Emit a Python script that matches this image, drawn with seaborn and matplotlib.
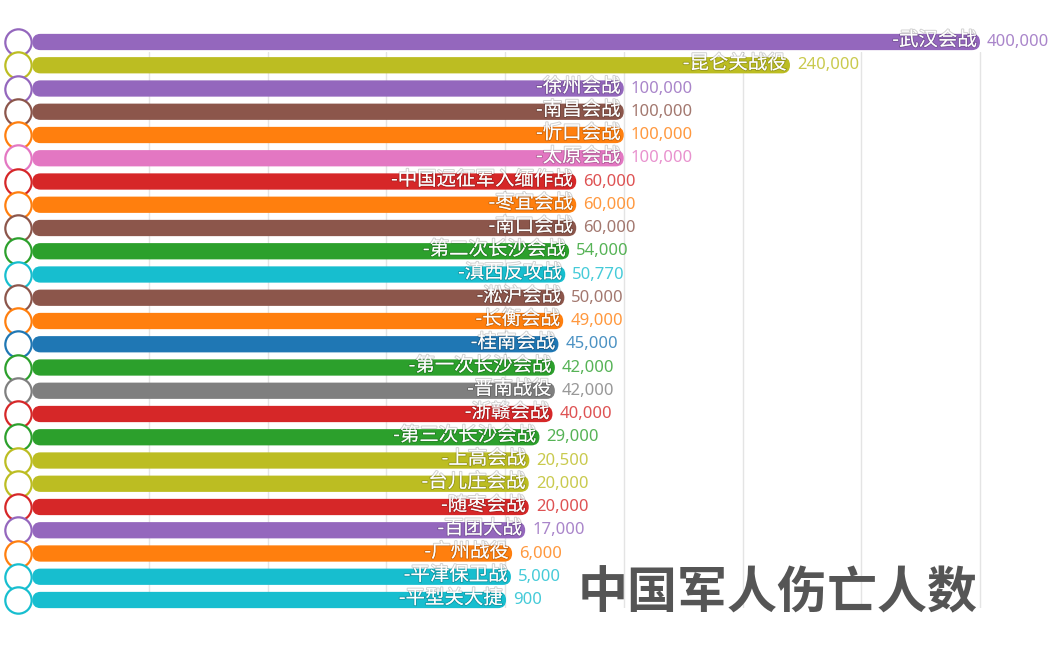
import matplotlib
matplotlib.use("Agg")
from matplotlib import pyplot as plt
from matplotlib.patches import FancyBboxPatch
import matplotlib.patheffects as pe
import seaborn as sns
import pandas as pd

# data
battles = ["武汉会战", "昆仑关战役", "徐州会战", "南昌会战", "忻口会战", "太原会战",
           "中国远征军入缅作战", "枣宜会战", "南口会战", "第二次长沙会战", "滇西反攻战",
           "淞沪会战", "长衡会战", "桂南会战", "第一次长沙会战", "晋南战役", "浙赣会战",
           "第三次长沙会战", "上高会战", "台儿庄会战", "随枣会战", "百团大战",
           "广州战役", "平津保卫战", "平型关大捷"]
casualties = [400000, 240000, 100000, 100000, 100000, 100000, 60000, 60000, 60000,
              54000, 50770, 50000, 49000, 45000, 42000, 42000, 40000, 29000, 20500,
              20000, 20000, 17000, 6000, 5000, 900]
colors = ["#9467bd", "#bcbd22", "#9467bd", "#8c564b", "#ff7f0e", "#e377c2",
          "#d62728", "#ff7f0e", "#8c564b", "#2ca02c", "#17becf", "#8c564b",
          "#ff7f0e", "#1f77b4", "#2ca02c", "#7f7f7f", "#d62728", "#2ca02c",
          "#bcbd22", "#bcbd22", "#d62728", "#9467bd", "#ff7f0e", "#17becf", "#17becf"]
title = "中国军人伤亡人数"

df = pd.DataFrame({"battle": battles, "value": casualties})

W, H = 1053, 658
ZERO_PX = 505
PX_PER_UNIT = 118.75 / 100000
ROW_PX = 23.25
BAR_LEFT = -398000      # bars all start at the same spot on the left
CIRCLE_X = -410000
BAR_H = 0.70

sns.set_style("white")
plt.rcParams["font.family"] = ["Noto Sans CJK SC", "DejaVu Sans"]

fig = plt.figure(figsize=(W / 100, H / 100), dpi=100)
ax = fig.add_axes([0, 1 - 608 / H, 1, (608 - 52) / H])

sns.barplot(data=df, x="value", y="battle", hue="battle", palette=colors,
            legend=False, orient="h", width=BAR_H, saturation=1, ax=ax)

ax.set_xlim(-ZERO_PX / PX_PER_UNIT, (W - ZERO_PX) / PX_PER_UNIT)
ax.set_ylim((608 - 42) / ROW_PX, (52 - 42) / ROW_PX)

# turn the plain bars into rounded ones starting at the left edge
r = (BAR_H * ROW_PX / 2) / PX_PER_UNIT
aspect = (BAR_H / 2) / r
px = 1 / PX_PER_UNIT
for patch in list(ax.patches):
    y0, h, w = patch.get_y(), patch.get_height(), patch.get_width()
    col = patch.get_facecolor()
    patch.remove()
    ax.add_patch(FancyBboxPatch((BAR_LEFT, y0), w - BAR_LEFT, h,
                                boxstyle=f"round,pad=0,rounding_size={r}",
                                mutation_aspect=aspect, facecolor=col,
                                edgecolor="none", zorder=3, clip_on=False))
    yc = y0 + h / 2
    ax.scatter([CIRCLE_X], [yc], s=360, facecolors="white", edgecolors=[col],
               linewidths=1.6, zorder=4, clip_on=False)
    ax.text(w - 3 * px, yc - 0.08, "-" + battles[int(round(yc))], ha="right",
            va="center", color="white", fontsize=14, fontweight="medium",
            zorder=5, clip_on=False,
            path_effects=[pe.withStroke(linewidth=1.4, foreground=(0, 0, 0, 0.18))])
    ax.text(w + 7 * px, yc, f"{int(w):,}", ha="left", va="center",
            color=col, alpha=0.8, fontsize=12, family=["Noto Sans", "DejaVu Sans"],
            zorder=5, clip_on=False)

ax.set_xticks(range(-300000, 400001, 100000))
ax.grid(axis="x", color="#e4e4e4", lw=1)
ax.grid(axis="y", visible=False)
ax.set_axisbelow(True)
ax.tick_params(length=0, labelbottom=False, labelleft=False)
ax.set_xlabel("")
ax.set_ylabel("")
sns.despine(ax=ax, left=True, bottom=True)

fig.text(778 / W, 1 - 594 / H, title, ha="center", va="center", fontsize=36,
         fontweight="bold", color="#555555")

fig.savefig("out.png", dpi=100)
